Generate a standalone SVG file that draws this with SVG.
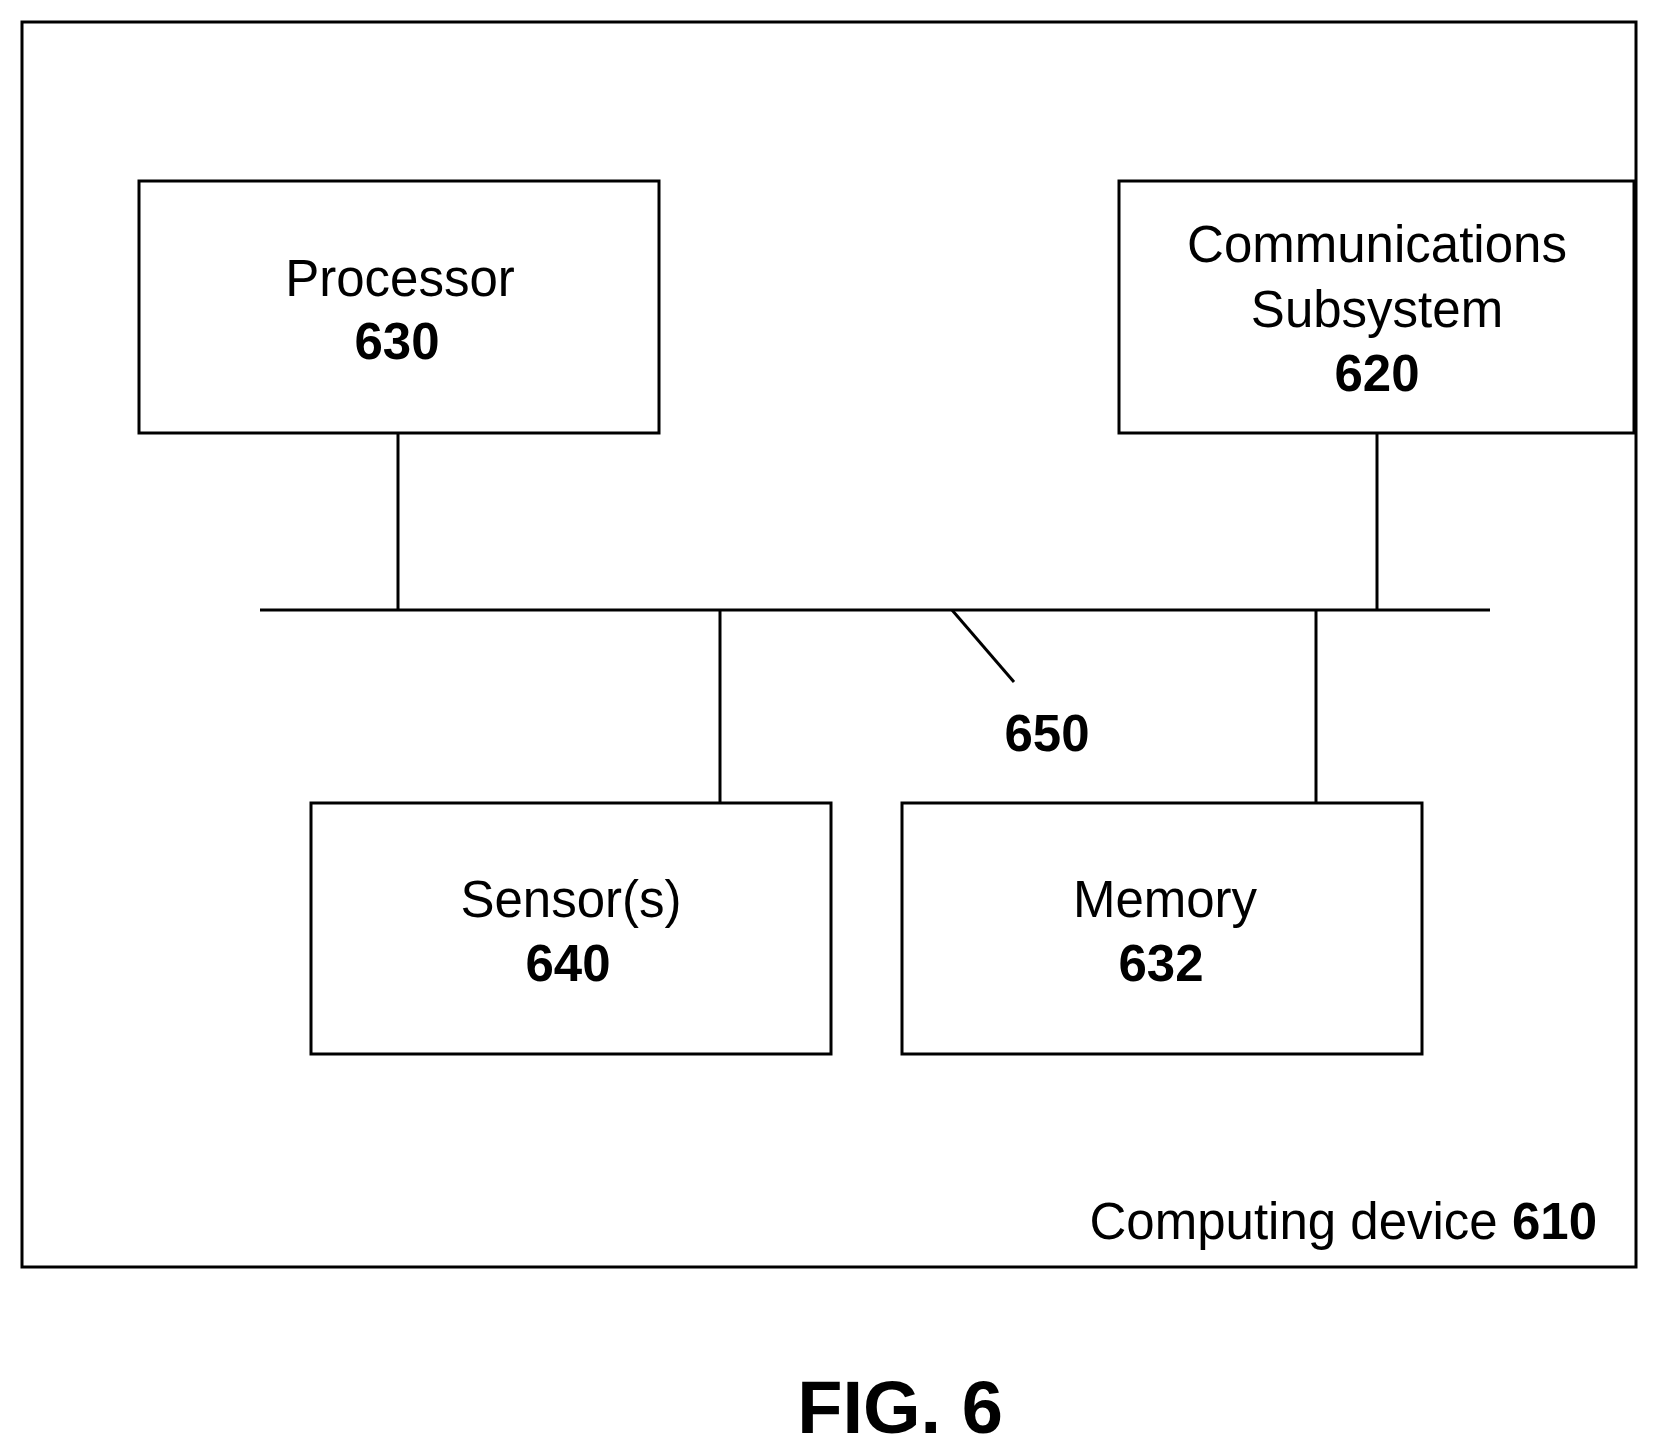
<svg xmlns="http://www.w3.org/2000/svg" width="1658" height="1454" viewBox="0 0 1658 1454">
<style>
.b{fill:#fff;stroke:#000;stroke-width:3}
.l{stroke:#000;stroke-width:3;fill:none}
text{font-family:"Liberation Sans",Arial,sans-serif;font-size:51px;text-anchor:middle;fill:#000}
.n{font-weight:bold}
</style>
<rect width="1658" height="1454" fill="#fff"/>
<g id="device"><rect class="b" x="22" y="22" width="1614" height="1245"/>
<text x="1597" y="1239" style="text-anchor:end">Computing device <tspan class="n">610</tspan></text></g>
<g id="connectors">
<line class="l" x1="260" y1="610" x2="1490" y2="610"/>
<line class="l" x1="398" y1="433" x2="398" y2="610"/>
<line class="l" x1="1377" y1="433" x2="1377" y2="610"/>
<line class="l" x1="720" y1="610" x2="720" y2="803"/>
<line class="l" x1="1316" y1="610" x2="1316" y2="803"/>
<line class="l" x1="952" y1="610" x2="1014" y2="682"/>
<text class="n" x="1047" y="751">650</text>
</g>
<g id="processor"><rect class="b" x="139" y="181" width="520" height="252"/>
<text x="400" y="296">Processor</text><text class="n" x="397" y="359">630</text></g>
<g id="comms"><rect class="b" x="1119" y="181" width="515" height="252"/>
<text x="1377" y="262">Communications</text><text x="1377" y="327">Subsystem</text><text class="n" x="1377" y="391">620</text></g>
<g id="sensors"><rect class="b" x="311" y="803" width="520" height="251"/>
<text x="571" y="917">Sensor(s)</text><text class="n" x="568" y="981">640</text></g>
<g id="memory"><rect class="b" x="902" y="803" width="520" height="251"/>
<text x="1165" y="917">Memory</text><text class="n" x="1161" y="981">632</text></g>
<text class="n" x="900" y="1433" style="font-size:74px">FIG. 6</text>
</svg>
